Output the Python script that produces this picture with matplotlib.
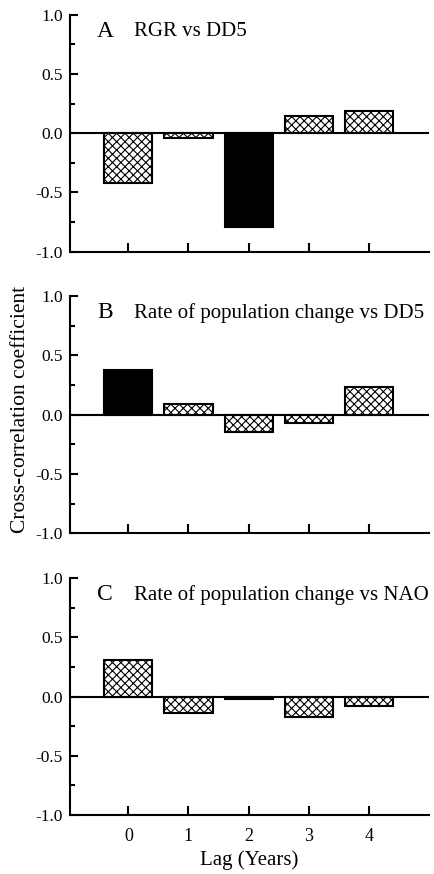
import numpy as np
import matplotlib.pyplot as plt
from matplotlib.ticker import MultipleLocator

plt.rcParams['font.family'] = ['Liberation Serif', 'DejaVu Serif']
plt.rcParams['hatch.linewidth'] = 0.8

### values ###
lags = np.array([0, 1, 2, 3, 4])
rgr_dd5 = np.array([-0.42, -0.04, -0.79, 0.15, 0.19])
pop_dd5 = np.array([0.38, 0.09, -0.15, -0.07, 0.23])
pop_nao = np.array([0.31, -0.14, -0.02, -0.17, -0.08])

# significant correlations are drawn as solid black bars
sig_rgr_dd5 = [False, False, True, False, False]
sig_pop_dd5 = [True, False, False, False, False]
sig_pop_nao = [False, False, False, False, False]

letters = ['A', 'B', 'C']
titles = ['RGR vs DD5', 'Rate of population change vs DD5',
          'Rate of population change vs NAO']
series = [rgr_dd5, pop_dd5, pop_nao]
signif = [sig_rgr_dd5, sig_pop_dd5, sig_pop_nao]

fig = plt.figure(figsize=(4.35, 8.74), dpi=100)
bottoms = [0.712, 0.390, 0.0675]

axes = []
for i in range(3):
    ax = fig.add_axes([0.161, bottoms[i], 0.825, 0.271])
    vals = series[i]
    for x, v, s in zip(lags, vals, signif[i]):
        if s:
            ax.bar(x, v, width=0.8, color='black', edgecolor='black', linewidth=1.5)
        else:
            ax.bar(x, v, width=0.8, color='white', edgecolor='black',
                   linewidth=1.5, hatch='xxxx')
    ax.axhline(0, color='black', linewidth=1.5, zorder=3)

    ax.set_xlim(-0.97, 5.0)
    ax.set_ylim(-1.0, 1.0)
    ax.set_xticks(lags)
    ax.set_yticks([-1.0, -0.5, 0.0, 0.5, 1.0])
    ax.yaxis.set_minor_locator(MultipleLocator(0.25))
    ax.set_yticklabels(['-1.0', '-0.5', '0.0', '0.5', '1.0'])
    ax.spines['top'].set_visible(False)
    ax.spines['right'].set_visible(False)
    ax.spines['left'].set_linewidth(1.5)
    ax.spines['bottom'].set_linewidth(1.5)
    ax.tick_params(axis='y', which='major', direction='in', length=6, width=1.5,
                   labelsize=12.5, pad=5)
    ax.tick_params(axis='y', which='minor', direction='in', length=3.5, width=1.5)
    ax.tick_params(axis='x', direction='in', length=6.5, width=1.5,
                   labelsize=13, pad=9)
    if i < 2:
        ax.tick_params(axis='x', labelbottom=False)

    ax.text(0.075, 0.93, letters[i], transform=ax.transAxes, fontsize=17,
            va='center', ha='left')
    ax.text(0.178, 0.93, titles[i], transform=ax.transAxes, fontsize=15,
            va='center', ha='left')
    axes.append(ax)

axes[2].set_xlabel('Lag (Years)', fontsize=15, labelpad=4)
fig.text(0.048, 1 - 409 / 874, 'Cross-correlation coefficient', rotation=90,
         va='center', ha='center', fontsize=15.5)

plt.savefig('out.png', dpi=100)
